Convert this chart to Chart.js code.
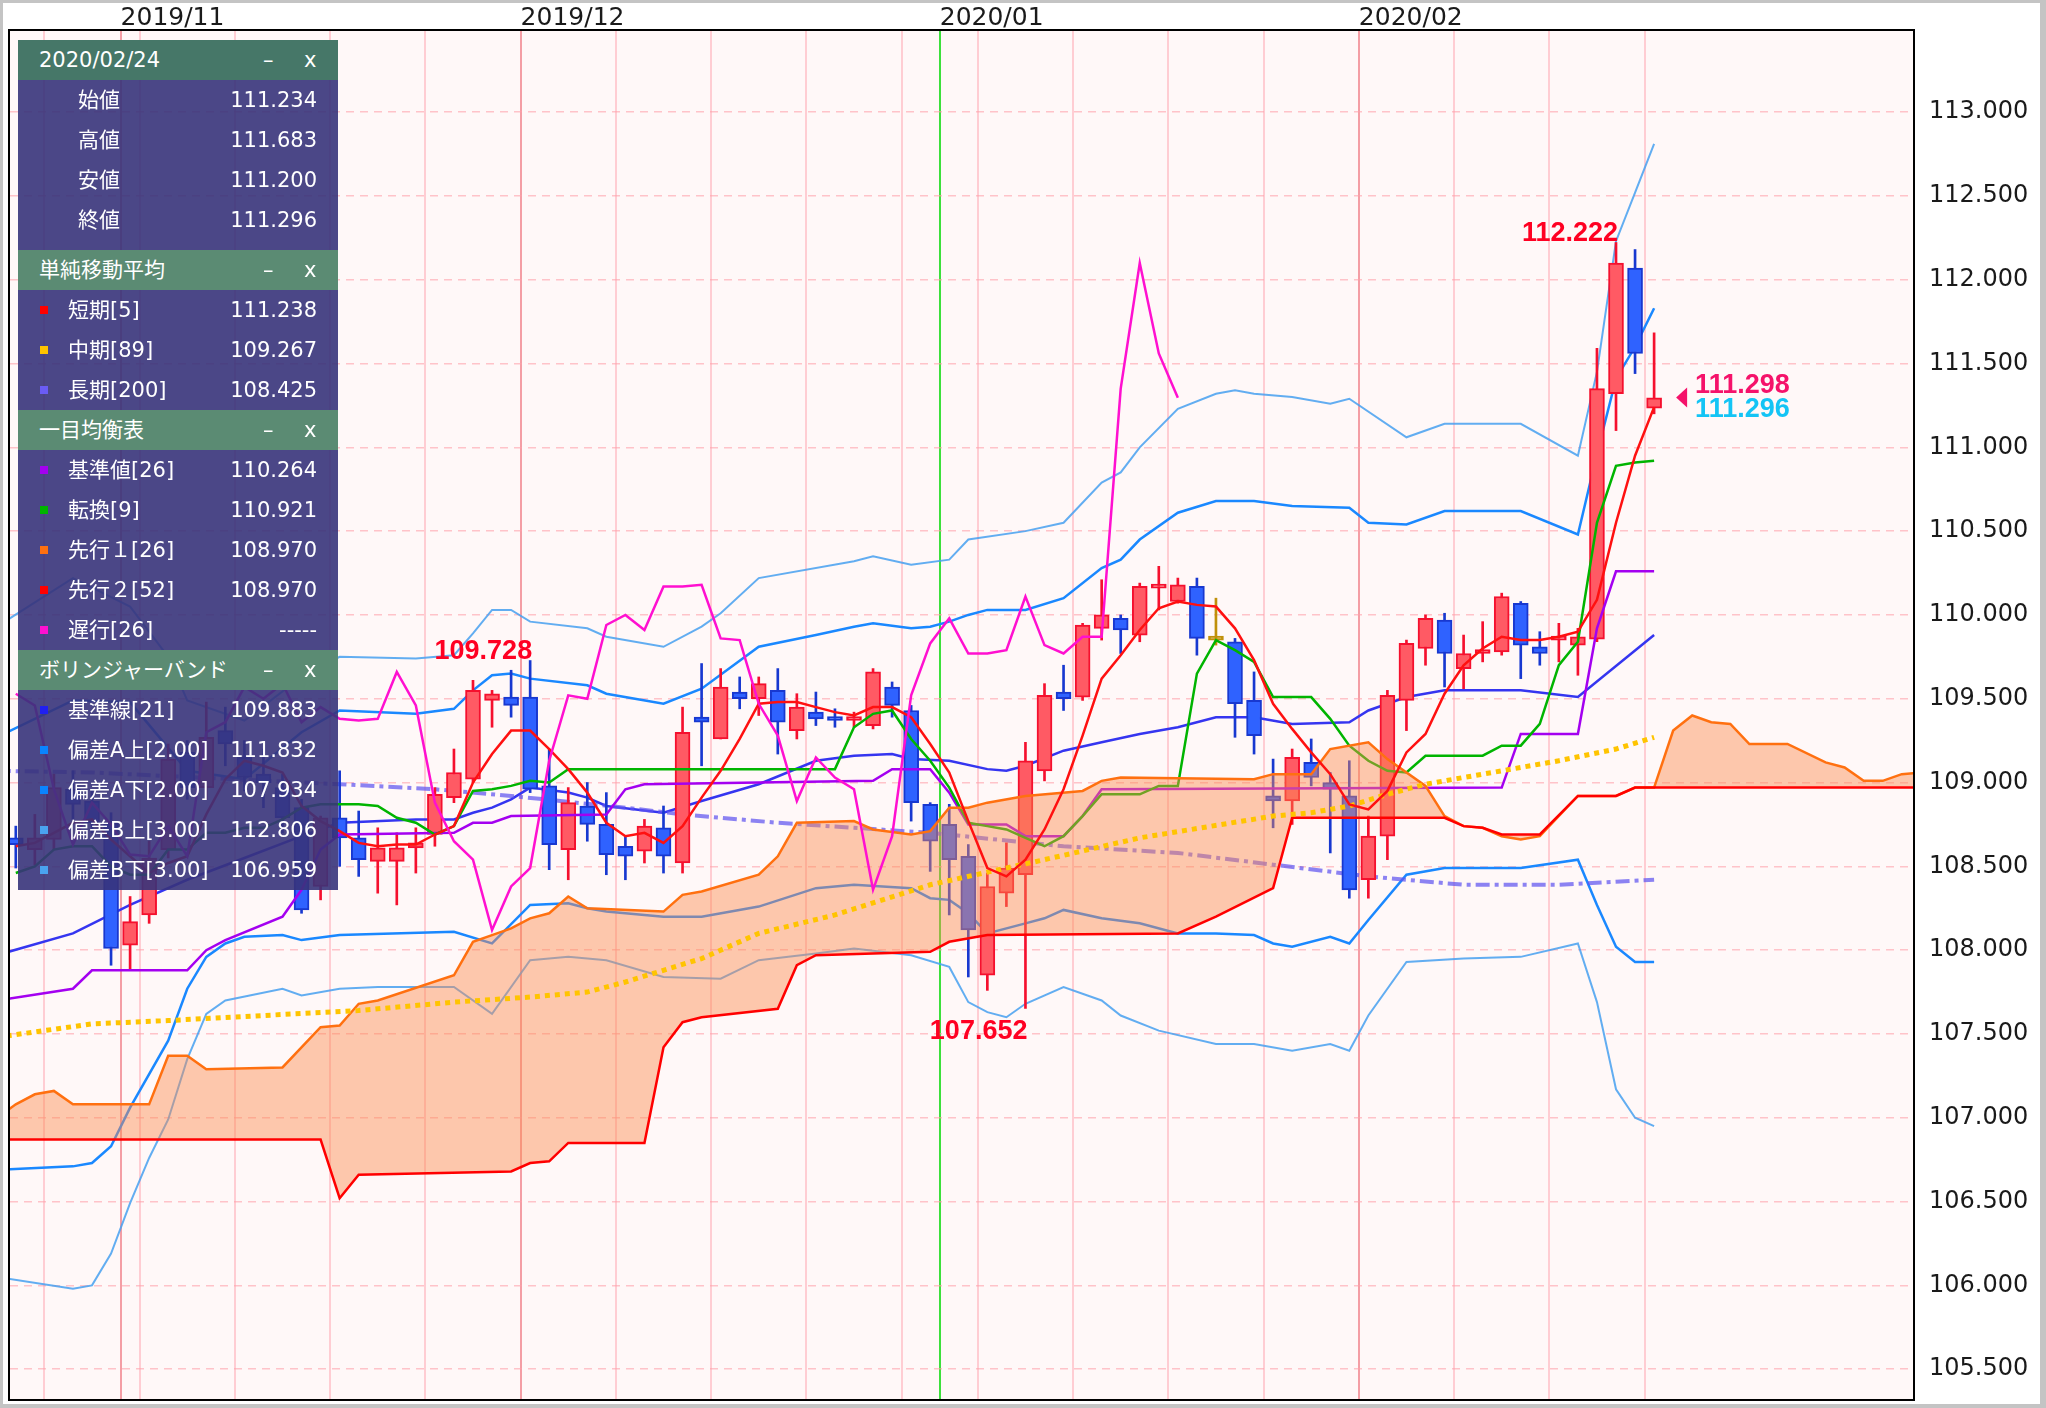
<!DOCTYPE html>
<html>
<head>
<meta charset="utf-8">
<script src="https://cdn.jsdelivr.net/npm/chart.js@4.4.1/dist/chart.umd.min.js"></script>
<style>
html, body { margin: 0; padding: 0; background: #fff; }
#wrap { position: relative; width: 2046px; height: 1408px; }
#panel { position: absolute; left: 18px; top: 40px; width: 320px; color: #fff;
  font-family: "DejaVu Sans", "Noto Sans CJK JP", sans-serif; font-size: 21px; }
.hd { position: relative; height: 40px; line-height: 40px; padding-left: 21px; background: rgb(91,139,115); }
.hd.first { background: rgb(70,119,104); }
.hd .m { position: absolute; left: 245px; font-style: normal; }
.hd .x { position: absolute; left: 286px; font-style: normal; }
.sec { background: rgba(55,51,122,0.9); }
.sec.ohlc { padding-bottom: 10px; }
.row { position: relative; height: 40px; line-height: 40px; }
.row .sq { position: absolute; left: 22px; top: 16px; width: 8px; height: 8px; }
.row .lb { position: absolute; left: 50px; }
.row .lb2 { position: absolute; left: 60px; }
.row .v { position: absolute; right: 21px; }
</style>
</head>
<body>
<div id="wrap">
  <canvas id="c"></canvas>
  <div id="panel">
    <div class="hd first"><span>2020/02/24</span><i class="m">–</i><i class="x">x</i></div>
    <div class="sec ohlc">
      <div class="row"><span class="lb2">始値</span><span class="v">111.234</span></div>
      <div class="row"><span class="lb2">高値</span><span class="v">111.683</span></div>
      <div class="row"><span class="lb2">安値</span><span class="v">111.200</span></div>
      <div class="row"><span class="lb2">終値</span><span class="v">111.296</span></div>
    </div>
    <div class="hd"><span>単純移動平均</span><i class="m">–</i><i class="x">x</i></div>
    <div class="sec">
      <div class="row"><b class="sq" style="background:#ff0000"></b><span class="lb">短期[5]</span><span class="v">111.238</span></div>
      <div class="row"><b class="sq" style="background:#ffc400"></b><span class="lb">中期[89]</span><span class="v">109.267</span></div>
      <div class="row"><b class="sq" style="background:#6a5cf5"></b><span class="lb">長期[200]</span><span class="v">108.425</span></div>
    </div>
    <div class="hd"><span>一目均衡表</span><i class="m">–</i><i class="x">x</i></div>
    <div class="sec">
      <div class="row"><b class="sq" style="background:#a400f0"></b><span class="lb">基準値[26]</span><span class="v">110.264</span></div>
      <div class="row"><b class="sq" style="background:#00b400"></b><span class="lb">転換[9]</span><span class="v">110.921</span></div>
      <div class="row"><b class="sq" style="background:#ff7010"></b><span class="lb">先行１[26]</span><span class="v">108.970</span></div>
      <div class="row"><b class="sq" style="background:#ff0000"></b><span class="lb">先行２[52]</span><span class="v">108.970</span></div>
      <div class="row"><b class="sq" style="background:#ff10d0"></b><span class="lb">遅行[26]</span><span class="v">-----</span></div>
    </div>
    <div class="hd"><span>ボリンジャーバンド</span><i class="m">–</i><i class="x">x</i></div>
    <div class="sec">
      <div class="row"><b class="sq" style="background:#2020f0"></b><span class="lb">基準線[21]</span><span class="v">109.883</span></div>
      <div class="row"><b class="sq" style="background:#0a84ff"></b><span class="lb">偏差A上[2.00]</span><span class="v">111.832</span></div>
      <div class="row"><b class="sq" style="background:#0a84ff"></b><span class="lb">偏差A下[2.00]</span><span class="v">107.934</span></div>
      <div class="row"><b class="sq" style="background:#4aa3f0"></b><span class="lb">偏差B上[3.00]</span><span class="v">112.806</span></div>
      <div class="row"><b class="sq" style="background:#4aa3f0"></b><span class="lb">偏差B下[3.00]</span><span class="v">106.959</span></div>
    </div>
  </div>
</div>
<script>
'use strict';

// daily candles, 2019/10/24 .. 2020/02/24 (index = trading day)
const open = [
  108.67,108.60,108.66,108.96,108.89,108.76,108.03,108.21,108.60,109.18,
  108.97,109.31,109.15,109.05,108.97,108.85,108.38,108.79,108.67,108.53,
  108.53,108.61,108.69,108.91,109.02,109.49,109.51,109.51,108.98,108.60,
  108.86,108.75,108.62,108.59,108.73,108.52,109.39,109.26,109.54,109.50,
  109.55,109.31,109.42,109.38,109.37,109.34,109.57,109.43,108.87,108.75,
  108.56,107.85,108.34,108.45,109.07,109.54,109.51,109.92,109.98,109.88,
  110.16,110.08,110.17,109.85,109.84,109.49,108.92,108.89,109.12,109.00,
  108.92,108.42,108.68,109.49,109.80,109.97,109.68,109.77,109.78,110.07,
  109.81,109.85,109.82,109.855,111.32,112.07,111.234];
const high = [
  108.74,108.81,109.05,109.07,108.95,108.82,108.32,108.65,109.23,109.25,
  109.48,109.45,109.25,109.20,109.05,108.90,108.80,109.07,108.83,108.73,
  108.70,108.73,108.97,109.20,109.61,109.55,109.67,109.728,109.20,108.97,
  109.00,108.94,108.68,108.78,108.86,109.45,109.71,109.68,109.63,109.63,
  109.68,109.53,109.54,109.44,109.42,109.68,109.60,109.46,108.88,108.87,
  108.63,108.46,108.64,109.24,109.59,109.70,109.95,110.21,110.00,110.19,
  110.29,110.22,110.22,110.10,109.86,109.66,109.14,109.20,109.26,109.06,
  109.13,108.80,109.55,109.85,110.00,110.01,109.88,109.96,110.13,110.08,
  109.90,109.95,109.92,111.59,112.222,112.18,111.683];
const low = [
  108.49,108.51,108.60,108.78,108.70,107.91,107.88,108.16,108.55,108.90,
  108.90,109.10,108.95,108.85,108.70,108.22,108.30,108.50,108.44,108.34,
  108.27,108.46,108.62,108.88,109.00,109.33,109.39,108.94,108.48,108.42,
  108.65,108.45,108.42,108.52,108.46,108.46,109.10,109.26,109.44,109.40,
  109.17,109.26,109.34,109.33,109.33,109.32,109.39,108.77,108.47,108.21,
  107.84,107.76,108.26,107.652,109.01,109.43,109.49,109.85,109.77,109.84,
  110.03,110.07,109.76,109.82,109.27,109.17,108.73,108.75,108.98,108.58,
  108.31,108.31,108.54,109.31,109.70,109.57,109.56,109.72,109.76,109.62,
  109.70,109.72,109.64,109.84,111.10,111.44,111.200];
const close = [
  108.63,108.67,108.97,108.87,108.76,108.01,108.17,108.55,109.14,108.97,
  109.27,109.23,109.03,109.00,108.79,108.24,108.79,108.67,108.54,108.61,
  108.61,108.64,108.93,109.06,109.55,109.53,109.46,108.96,108.63,108.88,
  108.75,108.57,108.56,108.74,108.56,109.30,109.36,109.57,109.50,109.59,
  109.36,109.45,109.38,109.37,109.38,109.66,109.46,108.88,108.65,108.54,
  108.12,108.38,108.49,109.13,109.52,109.50,109.94,110.00,109.91,110.17,
  110.17,110.18,109.86,109.85,109.47,109.28,108.89,109.15,109.03,108.96,
  108.36,108.68,109.52,109.83,109.98,109.77,109.77,109.79,110.11,109.82,
  109.77,109.87,109.87,111.35,112.10,111.56,111.296];
const askPrice = 111.298;

// moving averages
const sma5 = [
  108.62,108.64,108.70,108.76,108.78,108.66,108.56,108.46,108.52,108.56,
  108.81,109.02,109.13,109.10,109.06,108.86,108.77,108.71,108.64,108.62,
  108.63,108.63,108.69,108.74,109.00,109.17,109.31,109.31,109.20,109.08,
  108.94,108.76,108.68,108.70,108.64,108.74,108.91,109.07,109.26,109.47,
  109.48,109.48,109.45,109.42,109.40,109.45,109.45,109.39,109.23,109.06,
  108.77,108.49,108.44,108.54,108.72,108.96,109.28,109.62,109.76,109.91,
  110.04,110.08,110.06,110.05,109.92,109.73,109.47,109.32,109.18,109.05,
  108.87,108.84,108.95,109.18,109.29,109.53,109.70,109.80,109.87,109.85,
  109.85,109.87,109.90,110.09,110.55,110.95,111.24];
const sma89X = [-1,4,8,13,18,23,27,30,32,36,39,43,48,54,59,66,68,70,72,74,76,78,81,84,86];
const sma89Y = [107.48,107.56,107.58,107.61,107.64,107.69,107.72,107.75,107.81,107.95,
  108.10,108.21,108.39,108.54,108.67,108.80,108.82,108.86,108.93,108.99,109.03,109.07,109.13,109.20,109.27];
const sma200X = [-1,4,17,22,26,32,35,40,44,48,55,61,66,71,76,81,86];
const sma200Y = [109.07,109.06,108.99,108.96,108.92,108.85,108.81,108.76,108.73,108.70,
  108.62,108.58,108.51,108.44,108.39,108.39,108.42];

// ichimoku
const tenkan = [
  108.46,108.50,108.60,108.62,108.62,108.50,108.45,108.45,108.60,108.60,
  108.70,108.70,108.73,108.73,108.78,108.85,108.87,108.87,108.87,108.86,
  108.79,108.76,108.69,108.74,108.95,108.96,108.98,109.01,109.00,109.08,
  109.08,109.08,109.08,109.08,109.08,109.08,109.08,109.08,109.08,109.08,
  109.08,109.08,109.08,109.08,109.33,109.41,109.43,109.26,109.13,108.97,
  108.76,108.74,108.72,108.67,108.62,108.68,108.80,108.93,108.93,108.93,
  108.98,108.98,109.65,109.85,109.79,109.72,109.51,109.51,109.51,109.38,
  109.22,109.13,109.07,109.06,109.16,109.16,109.16,109.16,109.22,109.22,
  109.35,109.70,109.84,110.55,110.89,110.91,110.92];
const kijunX = [-1,3,4,9,10,11,14,15,16,17,23,24,25,26,31,32,33,45,46,48,49,50,52,53,55,56,57,78,79,82,83,84,86];
const kijunY = [107.70,107.77,107.88,107.88,108.00,108.06,108.20,108.36,108.60,108.69,108.70,
  108.76,108.76,108.80,108.81,108.96,108.99,109.01,109.08,109.08,108.94,108.75,108.75,108.68,
  108.68,108.80,108.96,108.97,109.29,109.29,109.92,110.26,110.26];
const spanAX = [-1,0,1,2,3,7,8,9,10,14,16,17,18,19,23,24,25,26,27,28,29,30,34,35,36,39,40,41,
  44,45,47,48,49,50,51,53,56,57,58,65,66,68,69,71,72,74,75,76,77,78,79,80,82,84,85,86,
  87,88,89,90,91,93,95,96,97,98,99,100];
const spanAY = [107.00,107.08,107.14,107.16,107.08,107.08,107.37,107.37,107.29,107.30,107.54,
  107.55,107.68,107.70,107.85,108.05,108.09,108.13,108.19,108.22,108.32,108.25,108.23,108.33,
  108.35,108.45,108.56,108.76,108.77,108.72,108.69,108.71,108.85,108.85,108.88,108.92,108.95,
  109.01,109.03,109.02,109.05,109.05,109.20,109.24,109.14,108.98,108.80,108.74,108.73,108.68,
  108.66,108.68,108.92,108.92,108.97,108.97,109.31,109.40,109.36,109.35,109.23,109.23,109.12,
  109.09,109.01,109.01,109.05,109.06];
const spanBX = [-1,16,17,18,26,27,28,29,33,34,35,36,40,41,42,48,49,51,61,63,66,67,75,76,77,78,80,82,84,85,100];
const spanBY = [106.87,106.87,106.52,106.66,106.68,106.73,106.74,106.85,106.85,107.42,107.57,
  107.60,107.65,107.91,107.97,107.99,108.05,108.09,108.10,108.20,108.37,108.79,108.79,108.74,
  108.73,108.69,108.69,108.92,108.92,108.97,108.97];
const chikouShift = 25;

// bollinger bands
const bbMidX = [-1,3,6,9,12,15,17,21,23,24,25,26,27,29,30,31,34,36,39,42,44,46,47,49,51,52,53,55,57,59,61,63,65,67,70,71,73,75,79,82,86];
const bbMidY = [107.97,108.10,108.27,108.42,108.55,108.68,108.76,108.78,108.78,108.82,108.85,
  108.90,108.97,108.94,108.91,108.86,108.82,108.89,108.99,109.13,109.16,109.17,109.14,109.13,
  109.08,109.07,109.10,109.19,109.24,109.29,109.33,109.39,109.39,109.35,109.36,109.43,109.51,
  109.55,109.55,109.51,109.88];
const bbUp2X = [-1,3,6,9,12,15,17,21,23,24,25,26,27,30,31,34,36,39,42,44,45,47,48,49,50,51,53,55,57,58,59,61,63,65,67,70,71,73,75,79,82,83,84,85,86];
const bbUp2Y = [109.27,109.49,109.48,109.07,109.02,109.30,109.43,109.41,109.44,109.55,109.64,
  109.65,109.62,109.58,109.53,109.47,109.56,109.81,109.88,109.93,109.95,109.92,109.93,109.96,
  110.00,110.03,110.03,110.10,110.28,110.33,110.45,110.61,110.68,110.68,110.65,110.64,110.55,
  110.54,110.62,110.62,110.48,110.96,111.41,111.60,111.83];
const bbUp3X = [-1,3,6,8,9,12,15,17,21,23,24,25,26,27,30,31,34,36,37,39,44,45,47,49,50,53,55,57,58,59,61,63,64,65,67,69,70,73,75,79,82,83,84,85,86];
const bbUp3Y = [109.93,110.22,110.05,109.75,109.49,109.37,109.63,109.75,109.74,109.76,109.89,
  110.03,110.03,109.96,109.92,109.87,109.81,109.93,110.01,110.22,110.32,110.35,110.30,110.33,
  110.45,110.50,110.55,110.79,110.85,111.00,111.23,111.32,111.34,111.32,111.30,111.26,111.29,
  111.06,111.14,111.14,110.95,111.45,112.23,112.52,112.81];
const bbLo2X = [-1,3,4,5,6,8,9,10,11,12,14,15,17,23,25,27,29,30,31,34,36,39,42,44,47,48,49,50,51,53,54,55,57,59,61,63,65,66,67,69,70,71,73,75,79,82,83,84,85,86];
const bbLo2Y = [106.69,106.71,106.73,106.83,107.06,107.46,107.77,107.96,108.04,108.08,108.09,
  108.06,108.09,108.11,108.04,108.27,108.28,108.25,108.23,108.20,108.20,108.26,108.37,108.39,
  108.37,108.31,108.30,108.22,108.10,108.16,108.19,108.24,108.19,108.16,108.10,108.10,108.09,
  108.04,108.02,108.08,108.04,108.18,108.45,108.49,108.49,108.54,108.27,108.02,107.93,107.93];
const bbLo3X = [-1,3,4,5,6,7,8,9,10,11,14,15,17,19,23,25,27,28,29,31,34,37,39,42,44,47,49,50,51,52,53,55,57,58,60,63,65,67,69,70,71,73,76,79,82,83,84,85,86];
const bbLo3Y = [106.05,105.98,106.00,106.19,106.49,106.76,106.99,107.35,107.62,107.70,107.77,
  107.73,107.77,107.78,107.78,107.62,107.94,107.95,107.96,107.94,107.84,107.83,107.94,107.98,
  108.01,107.97,107.90,107.69,107.63,107.60,107.68,107.78,107.70,107.61,107.52,107.44,107.44,
  107.40,107.44,107.40,107.61,107.93,107.95,107.96,108.04,107.69,107.17,107.00,106.95];

// axes
const yTicks = [105.5,106,106.5,107,107.5,108,108.5,109,109.5,110,110.5,111,111.5,112,112.5,113];
const weekLines = [1.5,5.5,6.5,11.5,16.5,21.5,26.5,31.5,36.5,41.5,46.5,48.5,50.5,55.5,60.5,65.5,70.5,75.5,80.5,85.5];
const monthLines = [5.5,26.5,48.5,70.5];
const monthLabels = ['2019/11','2019/12','2020/01','2020/02'];
const yearLine = 48.5;
const highMarks = [27, 84];
const lowMarks = [53];

const RED_FILL = '#ff5a64', RED_EDGE = '#f5102e';
const BLUE_FILL = '#2f62ff', BLUE_EDGE = '#1838d0';
const DOJI = '#c0900a';
const CLOUD = 'rgba(250,140,80,0.45)';

const dir = i => close[i] > open[i] ? 1 : (close[i] < open[i] ? -1 : 0);
const fillOf = c => { const d = dir(c.dataIndex); return d > 0 ? RED_FILL : d < 0 ? BLUE_FILL : DOJI; };
const edgeOf = c => { const d = dir(c.dataIndex); return d > 0 ? RED_EDGE : d < 0 ? BLUE_EDGE : DOJI; };

const pts = (xs, ys) => ys.map((y, i) => ({ x: xs ? xs[i] : i, y }));

function lineDs(xs, ys, color, width, order, extra) {
  return Object.assign({
    type: 'line', data: pts(xs, ys), borderColor: color, borderWidth: width,
    pointRadius: 0, pointHoverRadius: 0, tension: 0, fill: false, order: order, clip: 0
  }, extra || {});
}

const chikou = close.slice(chikouShift);

const datasets = [
  lineDs(spanBX, spanBY, '#ff0000', 2.5, 29),
  lineDs(spanAX, spanAY, '#ff7010', 2.5, 30, { fill: { target: 0, above: CLOUD, below: CLOUD } }),
  lineDs(bbUp3X, bbUp3Y, 'rgba(70,160,240,0.85)', 2, 70),
  lineDs(bbLo3X, bbLo3Y, 'rgba(70,160,240,0.85)', 2, 70),
  lineDs(bbUp2X, bbUp2Y, '#1a88ff', 2.5, 69),
  lineDs(bbLo2X, bbLo2Y, '#1a88ff', 2.5, 69),
  lineDs(bbMidX, bbMidY, '#3535f0', 2.5, 68),
  lineDs(sma200X, sma200Y, 'rgba(95,85,240,0.72)', 4, 65, { borderDash: [14, 5, 4, 5] }),
  {
    type: 'bar', data: close.map((_, i) => ({ x: i, y: [low[i], high[i]] })),
    backgroundColor: edgeOf, borderWidth: 0, barThickness: 2, grouped: false, order: 52
  },
  {
    type: 'bar', data: close.map((_, i) => ({ x: i, y: [open[i], close[i]] })),
    backgroundColor: fillOf, borderColor: edgeOf, borderWidth: 2, borderSkipped: false,
    barThickness: 15, minBarLength: 4, grouped: false, order: 51
  },
  lineDs(kijunX, kijunY, '#a400f0', 2.5, 45),
  lineDs(null, tenkan, '#00b400', 2.5, 44),
  lineDs(sma89X, sma89Y, '#ffc400', 5, 20, { borderDash: [5, 5], borderCapStyle: 'butt' }),
  lineDs(null, sma5, '#ff1010', 2.5, 15),
  lineDs(null, chikou, '#ff10d0', 2.5, 10)
];

const frame = {
  id: 'frame',
  beforeDraw(chart) {
    const { ctx, chartArea: a, width, height } = chart;
    ctx.save();
    ctx.fillStyle = '#fff';
    ctx.fillRect(0, 0, width, height);
    ctx.fillStyle = '#fff8f8';
    ctx.fillRect(a.left, a.top, a.right - a.left, a.bottom - a.top);
    ctx.restore();
  },
  afterDraw(chart) {
    const { ctx, chartArea: a, width, height } = chart;
    ctx.save();
    ctx.strokeStyle = '#000';
    ctx.lineWidth = 2;
    ctx.strokeRect(a.left - 1, a.top - 1, a.right - a.left + 2, a.bottom - a.top + 2);
    ctx.fillStyle = '#c4c4c4';
    ctx.fillRect(0, 0, width, 3);
    ctx.fillRect(0, 0, 3, height);
    ctx.fillRect(width - 6, 0, 6, height);
    ctx.fillRect(0, height - 4, width, 4);
    ctx.restore();
  }
};

const marks = {
  id: 'marks',
  afterDatasetsDraw(chart) {
    const { ctx, scales: { x, y } } = chart;
    ctx.save();
    ctx.font = 'bold 27px "Liberation Sans", Arial, sans-serif';
    ctx.fillStyle = '#ff0022';
    ctx.textAlign = 'right';
    ctx.textBaseline = 'alphabetic';
    highMarks.forEach(i => ctx.fillText(high[i].toFixed(3), x.getPixelForValue(i) + 2, y.getPixelForValue(high[i]) - 2));
    ctx.textBaseline = 'top';
    lowMarks.forEach(i => ctx.fillText(low[i].toFixed(3), x.getPixelForValue(i) + 2, y.getPixelForValue(low[i]) + 10));

    const last = close.length - 1;
    const px = x.getPixelForValue(last);
    const py = y.getPixelForValue(askPrice);
    ctx.fillStyle = '#f5126a';
    ctx.beginPath();
    ctx.moveTo(px + 22, py);
    ctx.lineTo(px + 33, py - 10);
    ctx.lineTo(px + 33, py + 10);
    ctx.closePath();
    ctx.fill();
    ctx.textAlign = 'left';
    ctx.textBaseline = 'middle';
    ctx.fillText(askPrice.toFixed(3), px + 41, py - 12);
    ctx.fillStyle = '#14c4f5';
    ctx.fillText(close[last].toFixed(3), px + 41, py + 12);
    ctx.restore();
  }
};

function gridColor(c) {
  const v = c.tick && c.tick.value;
  if (v === yearLine) return '#3ce03c';
  if (monthLines.includes(v)) return 'rgba(240,120,130,0.7)';
  return 'rgba(255,170,180,0.55)';
}

new Chart(document.getElementById('c').getContext('2d'), {
  type: 'line',
  data: { datasets },
  plugins: [frame, marks],
  options: {
    responsive: true, maintainAspectRatio: false, animation: false, events: [],
    layout: { padding: { left: 10, right: 0, top: 0, bottom: 9 } },
    plugins: { legend: { display: false }, tooltip: { enabled: false } },
    scales: {
      x: {
        type: 'linear', position: 'top', min: -0.304, max: 99.59, offset: false,
        afterBuildTicks: s => { s.ticks = weekLines.map(v => ({ value: v })); },
        afterFit: s => { s.height = 31; },
        grid: { color: gridColor, lineWidth: 2, drawTicks: false, offset: false },
        border: { display: false },
        ticks: {
          autoSkip: false, maxRotation: 0, minRotation: 0, align: 'start', padding: 0,
          color: '#1a1a1a', font: { family: 'DejaVu Sans', size: 25, lineHeight: 1 },
          callback: v => { const k = monthLines.indexOf(v); return k >= 0 ? monthLabels[k] : ''; }
        }
      },
      y: {
        type: 'linear', position: 'right', min: 105.322, max: 113.484,
        afterBuildTicks: s => { s.ticks = yTicks.map(v => ({ value: v })); },
        afterFit: s => { s.width = 133; s.paddingTop = 0; s.paddingBottom = 0; },
        grid: { color: 'rgba(255,160,170,0.6)', lineWidth: 1.5, drawTicks: false },
        border: { display: false, dash: [8, 6] },
        ticks: {
          padding: 16, color: '#1a1a1a', font: { family: 'DejaVu Sans', size: 24 },
          callback: v => v.toFixed(3)
        }
      }
    }
  }
});
</script>
</body>
</html>
